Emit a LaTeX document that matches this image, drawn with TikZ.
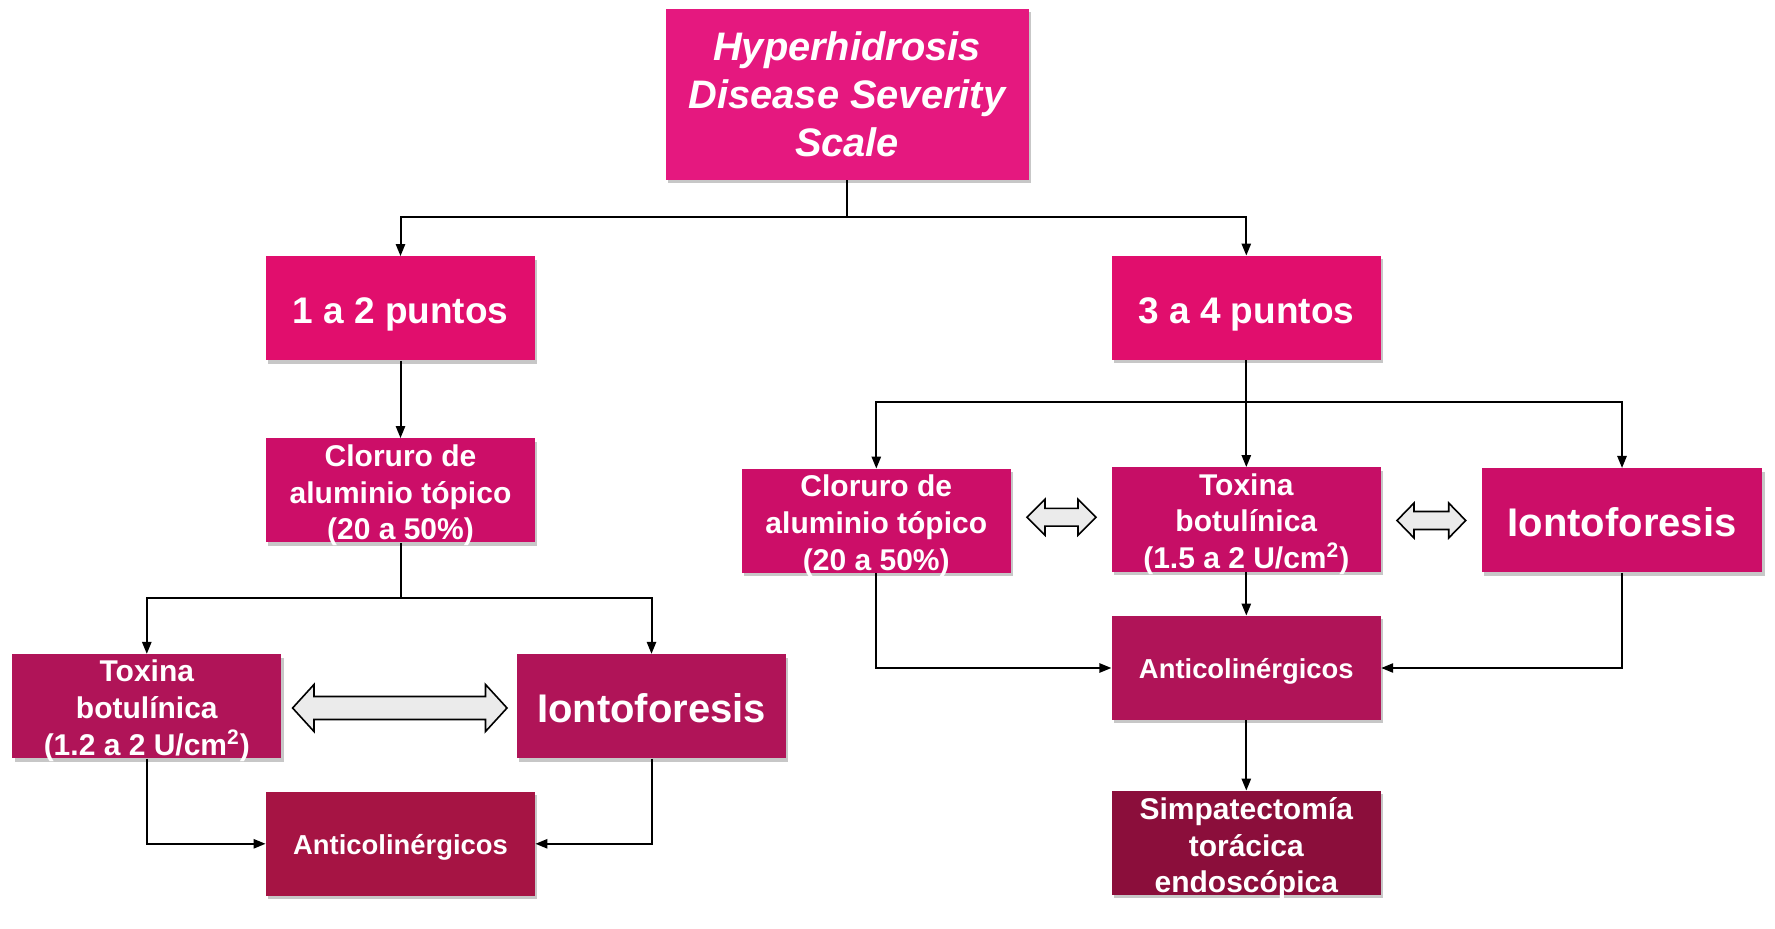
\documentclass[tikz,border=0pt]{standalone}
\usepackage{fontspec}
\setmainfont{Liberation Sans}
\usetikzlibrary{arrows.meta,shadows}
\definecolor{cTop}{HTML}{E5187F}
\definecolor{cPts}{HTML}{E10E6D}
\definecolor{cMid}{HTML}{CC0E68}
\definecolor{cMidB}{HTML}{C60E66}
\definecolor{cTox}{HTML}{B01458}
\definecolor{cAntL}{HTML}{A61444}
\definecolor{cSimp}{HTML}{8B0E3B}
\definecolor{cDbl}{HTML}{EBEBEB}
\begin{document}
\begin{tikzpicture}[x=0.5pt,y=-0.5pt,
  box/.style={rectangle, minimum width=134.5pt, minimum height=52pt, inner sep=0pt,
    text=white, align=center,
    drop shadow={shadow xshift=1.2pt, shadow yshift=-1.6pt, fill=black, opacity=0.22}},
  txt/.style={inner sep=0pt, text=white, align=center},
  fsmall/.style={font=\fontsize{15pt}{18.3pt}\bfseries\selectfont},
  fant/.style={font=\fontsize{13.7pt}{16pt}\bfseries\selectfont,
    execute at begin node={\rule{0pt}{13.5pt}}},
  fpts/.style={font=\fontsize{18.5pt}{22pt}\bfseries\selectfont,
    execute at begin node={\rule{0pt}{19pt}}},
  fion/.style={font=\fontsize{20pt}{24pt}\bfseries\selectfont,
    execute at begin node={\rule{0pt}{16.6pt}}},
  arr/.style={line width=1pt, -{Triangle[length=6pt,width=4.6pt]}},
  dbl/.style={draw=black, line width=0.8pt, fill=cDbl, line join=miter}
]
\useasboundingbox[fill=white] (0,0) rectangle (1775,929);

% boxes
\node[box, fill=cTop, minimum width=181.5pt, minimum height=85.5pt,
      font=\fontsize{19.9pt}{24pt}\bfseries\itshape\selectfont] (top) at (847,94.5)
      {Hyperhidrosis\\Disease Severity\\Scale};
\node[box, fill=cPts, fpts] (p12) at (400.5,308.5) {1 a 2 puntos};
\node[box, fill=cPts, fpts] (p34) at (1246.3,308) {3 a 4 puntos};
\node[box, fill=cMid] (cl1) at (400.5,490.5) {};
\node[box, fill=cTox] (tl) at (146.8,706.3) {};
\node[box, fill=cTox, fion] (il) at (651.5,706.3) {Iontoforesis};
\node[box, fill=cAntL, fant] (al) at (400.5,843.8) {Anticolinérgicos};

\node[box, fill=cMid] (cl2) at (876.3,521) {};
\node[box, fill=cMidB] (tr) at (1246.3,519.5) {};
\node[box, fill=cMid, fion, minimum width=140.3pt] (ir) at (1622,520.4) {Iontoforesis};
\node[box, fill=cTox, fant] (ar) at (1246.3,668) {Anticolinérgicos};
\node[box, fill=cSimp] (sp) at (1246.3,843) {};

% connectors
\coordinate (j1) at (847,217);
\draw[arr] (top.south) -- (j1) -| (p12.north);
\draw[arr] (j1) -| (p34.north);
\draw[arr] (p12.south) -- (cl1.north);
\coordinate (j2) at (400.5,597.6);
\draw[arr] (cl1.south) -- (j2) -| (tl.north);
\draw[arr] (j2) -| (il.north);
\draw[arr] (tl.south) |- (al.west);
\draw[arr] (il.south) |- (al.east);

\coordinate (j3) at (1246.3,402);
\draw[arr] (p34.south) -- (tr.north);
\draw[arr] (j3) -| (cl2.north);
\draw[arr] (j3) -| (ir.north);
\draw[arr] (tr.south) -- (ar.north);
\draw[arr] (cl2.south) |- (ar.west);
\draw[arr] (ir.south) |- (ar.east);
\draw[arr] (ar.south) -- (sp.north);

% multi-line texts (drawn above connectors)
\node[txt, fsmall] (cl1t) at ([yshift=-2.4pt]cl1.center) {Cloruro de\\aluminio tópico\\(20 a 50\%)};
\node[txt, fsmall] (tlt) at ([yshift=-2.2pt]tl.center) {Toxina\\botulínica\\(1.2 a 2 U/cm\textsuperscript{2})};
\node[txt, fsmall] (cl2t) at ([yshift=-2.4pt]cl2.center) {Cloruro de\\aluminio tópico\\(20 a 50\%)};
\node[txt, fsmall] (trt) at ([yshift=-2.2pt]tr.center) {Toxina\\botulínica\\(1.5 a 2 U/cm\textsuperscript{2})};
\node[txt, fsmall] (spt) at ([yshift=-2.6pt]sp.center) {Simpatectomía\\torácica\\endoscópica};

% double arrows
\draw[dbl] (292.6,708) -- (314,684.5) -- (314,696.5) -- (485.5,696.5) -- (485.5,684.5)
  -- (507,708) -- (485.5,731.5) -- (485.5,719.5) -- (314,719.5) -- (314,731.5) -- cycle;
\draw[dbl] (1027,517.3) -- (1045,499.3) -- (1045,508.4) -- (1078,508.4) -- (1078,499.3)
  -- (1096,517.3) -- (1078,535.3) -- (1078,526.2) -- (1045,526.2) -- (1045,535.3) -- cycle;
\draw[dbl] (1397,520.5) -- (1414,503) -- (1414,511.5) -- (1448.7,511.5) -- (1448.7,503)
  -- (1465.7,520.5) -- (1448.7,538) -- (1448.7,529.5) -- (1414,529.5) -- (1414,538) -- cycle;
\end{tikzpicture}
\end{document}
